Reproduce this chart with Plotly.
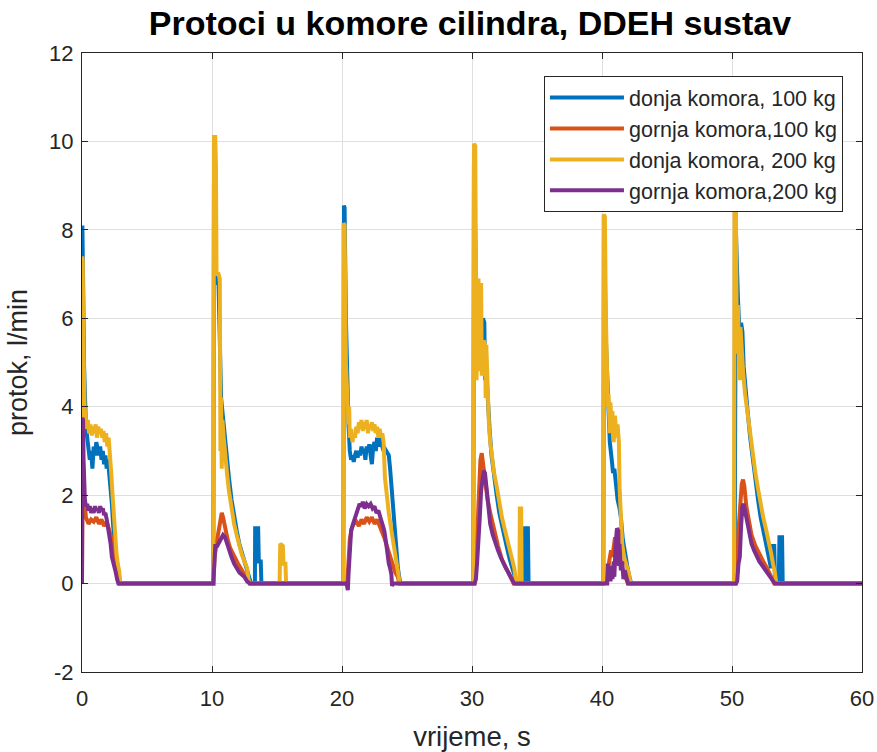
import plotly.graph_objects as go

# ---------------- data ----------------
t_d100 = [0, 0.03, 0.06, 0.1, 0.15, 0.2, 0.3, 0.4, 0.5, 0.6, 0.7, 0.8, 0.9, 1.0, 1.1, 1.2, 1.3, 1.4, 1.5, 1.6,
          1.7, 1.8, 1.9, 2.0, 2.1, 2.2, 2.3, 2.4, 2.5, 2.6, 2.7, 2.8, 2.9,
          10.1, 10.15, 10.25, 10.3, 10.5, 10.6, 10.7, 10.8, 10.9, 11.0, 11.15, 11.3, 11.5, 11.7, 11.9, 12.1,
          12.3, 12.5, 12.7, 12.9, 13.0, 13.3, 13.32, 13.55, 13.6, 13.75, 13.8,
          20.1, 20.15, 20.2, 20.3, 20.4, 20.5, 20.6, 20.7, 20.8, 20.9, 21.0, 21.1, 21.2, 21.3, 21.4, 21.5, 21.6,
          21.7, 21.8, 21.9, 22.0, 22.1, 22.2, 22.3, 22.4, 22.5, 22.6, 22.7, 22.8, 22.9, 23.0, 23.1, 23.2, 23.3,
          23.4, 23.5, 23.6, 23.7, 23.8, 23.9, 24.0, 24.1, 24.2, 24.3, 24.4, 24.5,
          30.1, 30.15, 30.3, 30.5, 30.7, 30.85, 30.95, 31.0, 31.1, 31.2, 31.35, 31.5, 31.7, 31.9, 32.1, 32.3,
          32.5, 32.7, 32.9, 33.1, 33.3, 33.45, 34.05, 34.08, 34.3, 34.35,
          40.1, 40.15, 40.3, 40.45, 40.6, 40.75, 40.85, 40.95, 41.05, 41.2, 41.35, 41.45, 41.6, 41.8, 42.0,
          42.15, 42.25,
          50.2, 50.3, 50.45, 50.6, 50.7, 50.8, 50.9, 51.0, 51.2, 51.4, 51.6, 51.8, 52.0, 52.2, 52.4, 52.6, 52.8,
          53.0, 53.08, 53.25, 53.3, 53.6, 53.65, 53.85, 53.9, 60]
v_d100 = [0, 8.1, 7.9, 6.5, 5.0, 4.2, 3.6, 3.3, 3.1, 2.8, 3.0, 2.6, 3.1, 2.9, 3.2, 3.0, 2.9, 3.1, 2.8, 3.0,
          2.7, 2.9, 2.6, 2.8, 2.5, 2.3, 1.8, 1.3, 0.9, 0.6, 0.3, 0.1, 0,
          0, 9.0, 9.0, 6.8, 6.8, 5.0, 4.2, 3.9, 3.6, 3.1, 2.8, 2.4, 1.9, 1.5, 1.2, 0.9,
          0.7, 0.5, 0.3, 0.1, 0, 0, 1.25, 1.25, 0.5, 0.5, 0,
          0, 8.55, 8.5, 6.0, 4.5, 3.6, 3.0, 2.8, 2.9, 2.75, 2.9, 3.0, 2.85, 3.0, 2.9, 3.1, 2.95,
          3.05, 2.8, 3.1, 3.0, 3.15, 2.9, 2.7, 3.1, 3.2, 3.0, 3.3, 3.1, 3.25, 3.3, 3.1, 3.0, 3.05,
          3.0, 2.95, 2.9, 2.6, 2.2, 1.8, 1.3, 0.9, 0.6, 0.35, 0.15, 0,
          0, 9.5, 7.0, 5.5, 5.0, 6.0, 5.9, 4.6, 4.8, 4.2, 3.5, 2.9, 2.4, 2.0, 1.6, 1.3,
          1.0, 0.8, 0.55, 0.35, 0.15, 0, 0, 1.25, 1.25, 0,
          0, 8.3, 5.5, 4.0, 3.2, 2.8, 2.5, 2.6, 2.2, 1.9, 1.7, 1.5, 1.0, 0.6, 0.3,
          0.1, 0,
          0, 8.0, 6.5, 5.5, 5.9, 5.7, 4.9, 4.5, 3.9, 3.3, 2.8, 2.3, 1.9, 1.5, 1.2, 0.9, 0.6,
          0.35, 0.85, 0.85, 0.15, 0.1, 1.05, 1.05, 0.0, 0]

t_g100 = [0, 0.05, 0.15, 0.3, 0.5, 0.7, 0.9, 1.1, 1.3, 1.5, 1.7, 1.9, 2.1, 2.3, 2.5, 2.7, 2.85, 2.95,
          10.1, 10.2, 10.4, 10.6, 10.75, 10.85, 11.0, 11.2, 11.4, 11.7, 12.0, 12.3, 12.6, 12.9,
          20.4, 20.5, 20.6, 20.75, 20.9, 21.1, 21.3, 21.5, 21.7, 21.9, 22.1, 22.3, 22.5, 22.7, 22.9, 23.1,
          23.3, 23.5, 23.7, 23.9, 24.1, 24.3, 24.4,
          30.2, 30.35, 30.5, 30.65, 30.75, 30.85, 31.0, 31.2, 31.4, 31.7, 32.0, 32.3, 32.6, 32.9, 33.2,
          40.1, 40.4, 40.55, 40.7, 40.8, 40.9, 41.0, 41.1, 41.2, 41.3, 41.45, 41.6, 41.8, 42.0,
          50.3, 50.4, 50.5, 50.6, 50.75, 50.85, 50.95, 51.1, 51.3, 51.5, 51.8, 52.1, 52.4, 52.7, 53.0, 53.25, 60]
v_g100 = [0, 3.0, 2.0, 1.5, 1.35, 1.45, 1.4, 1.5, 1.35, 1.45, 1.3, 1.4, 1.2, 1.0, 0.7, 0.4, 0.1, 0,
          0, 0.6, 1.0, 1.3, 1.6, 1.5, 1.25, 1.0, 0.8, 0.6, 0.45, 0.3, 0.15, 0,
          0, 0.5, 1.0, 1.25, 1.35, 1.4, 1.3, 1.45, 1.35, 1.5, 1.4, 1.5, 1.35, 1.45, 1.3, 1.2,
          1.0, 0.8, 0.6, 0.4, 0.25, 0.15, 0,
          0, 0.6, 1.8, 2.8, 2.95, 2.7, 2.3, 1.9, 1.6, 1.2, 0.85, 0.55, 0.35, 0.15, 0,
          0, 0.1, 0.5, 0.75, 0.6, 0.9, 1.05, 0.8, 1.05, 0.7, 0.5, 0.3, 0.15, 0,
          0, 0.3, 1.2, 1.8, 2.25, 2.35, 2.2, 1.75, 1.35, 1.1, 0.85, 0.65, 0.5, 0.35, 0.18, 0, 0]

t_d200 = [0, 0.02, 0.06, 0.1, 0.15, 0.2, 0.3, 0.35, 0.45, 0.55, 0.65, 0.75, 0.85, 0.95, 1.05, 1.15, 1.25,
          1.35, 1.45, 1.55, 1.65, 1.75, 1.85, 1.95, 2.05, 2.15, 2.25, 2.35, 2.45, 2.55, 2.65, 2.75, 2.85, 2.95,
          10.1, 10.15, 10.25, 10.3, 10.35, 10.5, 10.6, 10.65, 10.7, 10.75, 10.8, 10.9, 11.0, 11.15, 11.3, 11.5,
          11.7, 11.9, 12.1, 12.3, 12.5, 12.7, 12.8, 12.9,
          15.2, 15.25, 15.45, 15.5, 15.65, 15.7,
          20.1, 20.12, 20.2, 20.25, 20.3, 20.4, 20.5, 20.55, 20.6, 20.7, 20.8, 20.9, 21.0, 21.1, 21.2, 21.3,
          21.4, 21.5, 21.6, 21.7, 21.8, 21.9, 22.0, 22.1, 22.2, 22.3, 22.4, 22.5, 22.6, 22.7, 22.8, 22.9, 23.0,
          23.1, 23.2, 23.3, 23.45, 23.6, 23.8, 24.0, 24.2, 24.35, 24.45,
          30.1, 30.15, 30.25, 30.3, 30.35, 30.4, 30.45, 30.5, 30.55, 30.6, 30.65, 30.7, 30.75, 30.8, 30.85,
          30.9, 31.0, 31.05, 31.1, 31.2, 31.3, 31.4, 31.55, 31.7, 31.9, 32.1, 32.3, 32.5, 32.7, 32.9, 33.1,
          33.25, 33.4, 33.65, 33.68, 33.78, 33.82,
          40.1, 40.13, 40.22, 40.3, 40.4, 40.45, 40.5, 40.6, 40.65, 40.75, 40.8, 40.9, 41.0, 41.1, 41.2, 41.3,
          41.35, 41.45, 41.55, 41.7, 41.9, 42.05, 42.2,
          50.15, 50.2, 50.3, 50.35, 50.4, 50.45, 50.55, 50.6, 50.65, 50.75, 50.85, 51.0, 51.2, 51.4, 51.6,
          51.8, 52.0, 52.2, 52.4, 52.6, 52.8, 53.0, 53.15, 53.3, 53.4, 60]
v_d200 = [0, 7.4, 7.3, 5.5, 4.3, 4.0, 3.7, 3.5, 3.7, 3.4, 3.6, 3.35, 3.55, 3.4, 3.6, 3.3, 3.55,
          3.4, 3.5, 3.3, 3.45, 3.2, 3.4, 3.1, 3.3, 3.0, 2.5, 2.0, 1.5, 1.0, 0.7, 0.45, 0.3, 0,
          0, 10.1, 10.1, 9.5, 7.0, 7.0, 6.9, 3.0, 4.2, 2.6, 3.7, 3.3, 2.9, 2.5, 2.1, 1.7,
          1.35, 1.1, 0.85, 0.65, 0.5, 0.35, 0.1, 0,
          0, 0.9, 0.85, 0.45, 0.45, 0,
          0, 8.15, 8.1, 6.5, 5.0, 4.3, 3.6, 4.0, 3.3, 3.5, 3.2, 3.4, 3.3, 3.55, 3.4, 3.65,
          3.5, 3.7, 3.45, 3.65, 3.5, 3.7, 3.4, 3.6, 3.5, 3.65, 3.45, 3.6, 3.4, 3.55, 3.3, 3.5, 3.3,
          3.4, 3.2, 2.4, 1.9, 1.6, 1.2, 0.8, 0.45, 0.2, 0,
          0, 9.95, 9.9, 7.0, 4.6, 6.8, 5.0, 6.9, 4.8, 6.5, 5.2, 6.8, 4.7, 5.5, 4.9,
          5.5, 5.4, 4.2, 5.4, 4.0, 3.6, 3.2, 2.8, 2.5, 2.2, 1.8, 1.5, 1.25, 1.0, 0.75, 0.55,
          0.35, 0, 0, 1.7, 1.7, 0,
          0, 8.35, 8.3, 6.0, 4.3, 4.0, 4.3, 3.4, 4.1, 3.5, 3.9, 3.2, 3.8, 3.3, 3.6, 3.2,
          2.2, 1.5, 0.9, 0.6, 0.4, 0.25, 0,
          0, 8.8, 8.7, 6.2, 5.2, 6.3, 5.5, 4.6, 5.8, 5.0, 4.8, 4.3, 3.85, 3.3, 2.85,
          2.5, 2.15, 1.8, 1.5, 1.25, 1.0, 0.7, 0.45, 0.25, 0, 0]

t_g200 = [0, 0.03, 0.08, 0.12, 0.17, 0.22, 0.3, 0.4, 0.5, 0.6, 0.7, 0.8, 0.9, 1.0, 1.1, 1.2, 1.3, 1.4, 1.5,
          1.6, 1.7, 1.8, 1.9, 2.0, 2.1, 2.2, 2.3, 2.4, 2.5, 2.6, 2.7, 2.8,
          10.1, 10.15, 10.25, 10.4, 10.55, 10.7, 10.85, 11.0, 11.15, 11.3, 11.5, 11.7, 11.9, 12.1, 12.3, 12.5,
          12.7, 12.9,
          20.35, 20.45, 20.5, 20.6, 20.7, 20.85, 21.0, 21.2, 21.35, 21.5, 21.6, 21.75, 21.9, 22.05, 22.2, 22.35,
          22.5, 22.65, 22.8, 22.95, 23.1, 23.25, 23.4, 23.5, 23.6, 23.7, 23.8, 23.85, 23.95,
          30.2, 30.3, 30.4, 30.5, 30.6, 30.7, 30.8, 30.9, 31.0, 31.1, 31.25, 31.4, 31.6, 31.8, 32.0, 32.2, 32.4,
          32.6, 32.8, 33.0, 33.15, 33.25,
          40.2, 40.4, 40.45, 40.5, 40.6, 40.65, 40.75, 40.8, 40.9, 40.95, 41.05, 41.15, 41.25, 41.3, 41.35,
          41.45, 41.55, 41.65, 41.75, 41.9, 42.0,
          50.3, 50.4, 50.5, 50.6, 50.7, 50.8, 50.9, 51.0, 51.15, 51.3, 51.5, 51.7, 51.9, 52.1, 52.3, 52.5, 52.7,
          52.9, 53.1, 53.3, 60]
v_g200 = [0, 3.75, 3.7, 2.8, 2.2, 1.9, 1.75, 1.8, 1.65, 1.75, 1.6, 1.7, 1.6, 1.75, 1.65, 1.7, 1.6, 1.75, 1.65,
          1.7, 1.55, 1.6, 1.45, 1.3, 1.15, 0.9, 0.6, 0.5, 0.4, 0.25, 0.1, 0,
          0, 0.45, 0.85, 0.85, 0.95, 1.05, 1.1, 1.05, 0.9, 0.75, 0.6, 0.45, 0.35, 0.25, 0.2, 0.15,
          0.05, 0,
          0, -0.15, 0.2, 0.9, 1.2, 1.35, 1.5, 1.7, 1.8, 1.75, 1.85, 1.7, 1.8, 1.75, 1.8, 1.7,
          1.75, 1.6, 1.65, 1.5, 1.35, 1.2, 0.9, 0.55, 0.45, 0.35, 0.2, -0.05, 0,
          0, 0.1, 0.5, 0.9, 1.5, 2.1, 2.4, 2.55, 2.5, 2.2, 1.7, 1.35, 1.1, 0.9, 0.75, 0.6, 0.45,
          0.35, 0.25, 0.15, 0.05, 0,
          0, 0.0, 0.45, 0.1, 0.4, 0.05, 0.35, 0.1, 0.5, 0.15, 0.9, 1.25, 1.2, 0.4, 0.9,
          0.3, 0.5, 0.1, 0.3, 0.05, 0,
          0, 0.05, 0.45, 0.6, 1.3, 1.75, 1.8, 1.65, 1.35, 1.1, 0.9, 0.75, 0.62, 0.5, 0.42, 0.33, 0.25,
          0.15, 0.08, 0, 0]

series_names = ["donja komora, 100 kg", "gornja komora,100 kg", "donja komora, 200 kg", "gornja komora,200 kg"]
series_colors = ["#0072BD", "#D95319", "#EDB120", "#7E2F8E"]

x_ticks = [0, 10, 20, 30, 40, 50, 60]
x_tick_labels = ["0", "10", "20", "30", "40", "50", "60"]
y_ticks = [-2, 0, 2, 4, 6, 8, 10, 12]
y_tick_labels = ["-2", "0", "2", "4", "6", "8", "10", "12"]

title_text = "Protoci u komore cilindra, DDEH sustav"
x_title = "vrijeme, s"
y_title = "protok, l/min"

# ---------------- figure ----------------
FONT = "Liberation Sans, Arial, Helvetica, sans-serif"
INK = "#262626"

fig = go.Figure()
for t, v, name, col in zip([t_d100, t_g100, t_d200, t_g200],
                           [v_d100, v_g100, v_d200, v_g200],
                           series_names, series_colors):
    fig.add_trace(go.Scatter(x=t, y=v, mode="lines", name=name,
                             line=dict(color=col, width=4)))

axis_common = dict(showgrid=True, gridcolor="#DFDFDF", gridwidth=1,
                   showline=True, linecolor=INK, linewidth=1, mirror="ticks",
                   ticks="inside", ticklen=6, tickcolor=INK, zeroline=False,
                   automargin=False,
                   tickfont=dict(family=FONT, size=22, color=INK))

fig.update_layout(
    width=877, height=752,
    paper_bgcolor="white", plot_bgcolor="white",
    margin=dict(l=82, r=15, t=53, b=80),
    title=dict(text="<b>" + title_text + "</b>", x=0.5359, xanchor="center", y=0.9695, yanchor="middle",
               font=dict(family=FONT, size=34, color="black")),
    xaxis=dict(range=[0, 60], tickvals=x_ticks, ticktext=x_tick_labels, ticklabelstandoff=7,
               title=dict(text=x_title, standoff=17, font=dict(family=FONT, size=27.5, color=INK)),
               **axis_common),
    yaxis=dict(range=[-2, 12], tickvals=y_ticks, ticktext=y_tick_labels, ticklabelstandoff=3,
               title=dict(text=y_title, standoff=13, font=dict(family=FONT, size=27, color=INK)),
               **axis_common),
    legend=dict(x=0.9756, y=0.9628, xanchor="right", yanchor="top",
                bgcolor="white", bordercolor=INK, borderwidth=1,
                font=dict(family=FONT, size=21.5, color=INK), itemwidth=74,
                tracegroupgap=0),
    showlegend=True,
)

# remove the browser's default 8px body margin so the figure fills the window exactly
fig.write_html("out.html", config={"displayModeBar": False},
               post_script="document.body.style.margin='0';")
